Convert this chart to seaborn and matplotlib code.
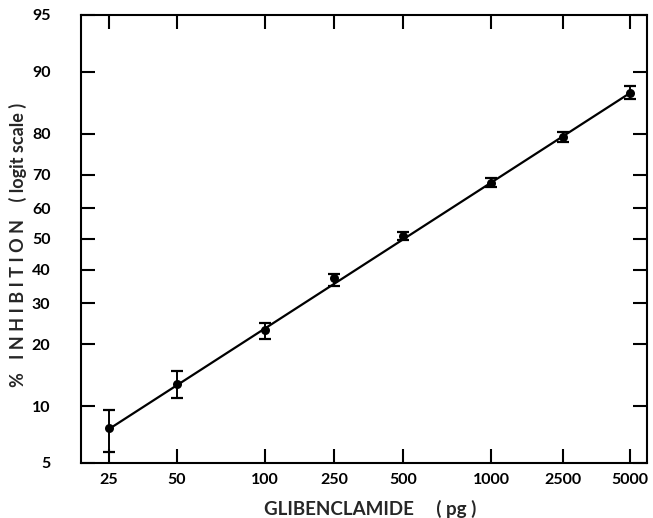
import numpy as np
import pandas as pd
import matplotlib
matplotlib.use("Agg")
import matplotlib.pyplot as plt
import seaborn as sns

# ---- data ----
dose = [25, 50, 100, 250, 500, 1000, 2500, 5000]          # pg glibenclamide
inhib = [7.7, 13.0, 23.2, 37.4, 51.0, 67.7, 79.3, 87.2]   # % inhibition
err_hi = [9.5, 15.0, 24.8, 38.6, 52.2, 69.0, 80.4, 88.2]
err_lo = [5.7, 11.0, 21.2, 35.0, 49.7, 66.5, 78.2, 86.3]
fit_x = [25, 5000]
fit_y = [7.6, 87.2]
x_ticks = [25, 50, 100, 250, 500, 1000, 2500, 5000]
x_ticklabels = ["25", "50", "100", "250", "500", "1000", "2500", "5000"]
y_ticks = [5, 10, 20, 30, 40, 50, 60, 70, 80, 90, 95]
y_ticklabels = [str(v) for v in y_ticks]

sns.set_style("ticks")
plt.rcParams["font.family"] = ["Lato", "DejaVu Sans"]

# the printed dose axis is a non-uniform log ruler; reproduce it as a scale
_L = np.log10(np.array(x_ticks, dtype=float))
_P = np.array([109, 177, 265, 334, 403, 491, 563, 630], dtype=float)
_s0 = (_P[1] - _P[0]) / (_L[1] - _L[0])
_s1 = (_P[-1] - _P[-2]) / (_L[-1] - _L[-2])
_Lx = np.concatenate([[_L[0] - 2], _L, [_L[-1] + 2]])
_Px = np.concatenate([[_P[0] - 2 * _s0], _P, [_P[-1] + 2 * _s1]])


def fwd(x):
    x = np.asarray(x, dtype=float)
    return np.interp(np.log10(np.clip(x, 1e-9, None)), _Lx, _Px)


def inv(u):
    return 10 ** np.interp(np.asarray(u, dtype=float), _Px, _Lx)


df = pd.DataFrame({"dose": dose, "p": np.array(inhib) / 100})
fit = pd.DataFrame({"dose": fit_x, "p": np.array(fit_y) / 100})

fig = plt.figure(figsize=(6.53, 5.18), dpi=100)
ax = fig.add_axes([81 / 653, 1 - 463 / 518, (647 - 81) / 653, (463 - 15) / 518])
ax.set_xscale("function", functions=(fwd, inv))
ax.set_yscale("logit")

sns.lineplot(data=fit, x="dose", y="p", color="black", linewidth=1.6, ax=ax)
yerr = np.array([np.array(inhib) - np.array(err_lo), np.array(err_hi) - np.array(inhib)]) / 100
ax.errorbar(dose, np.array(inhib) / 100, yerr=yerr, fmt="none", ecolor="black",
            elinewidth=1.4, capsize=4.5, capthick=1.6)
sns.scatterplot(data=df, x="dose", y="p", color="black", s=42, edgecolor="black",
                linewidth=0, ax=ax, zorder=5)

ax.set_xlim(inv(81), inv(647))
ax.set_ylim(0.05, 0.95)
ax.set_xticks(x_ticks)
ax.set_xticklabels(x_ticklabels)
ax.xaxis.set_minor_locator(matplotlib.ticker.NullLocator())
ax.set_yticks([v / 100 for v in y_ticks])
ax.set_yticklabels(y_ticklabels)
ax.yaxis.set_minor_locator(matplotlib.ticker.NullLocator())

for sp in ax.spines.values():
    sp.set_linewidth(1.5)
    sp.set_color("black")

ax.tick_params(axis="both", which="major", direction="in", length=10, width=1.5,
               top=True, right=True, labelsize=11.5, colors="black")
ax.tick_params(axis="y", pad=22)
ax.tick_params(axis="x", pad=7)
for lab in ax.get_xticklabels() + ax.get_yticklabels():
    lab.set_fontweight("bold")

ax.set_xlabel("GLIBENCLAMIDE     ( pg )", fontsize=13.5, fontweight="bold")
ax.xaxis.set_label_coords((370 - 81) / 566, (463 - 509) / 448)
ax.xaxis.label.set_va("center")
ax.set_ylabel("%   I N H I B I T I O N    ( logit scale )", fontsize=13, fontweight="bold")
ax.yaxis.set_label_coords((18 - 81) / 566, (463 - 245) / 448)
ax.yaxis.label.set_va("center")

fig.savefig("out.png", dpi=100)
